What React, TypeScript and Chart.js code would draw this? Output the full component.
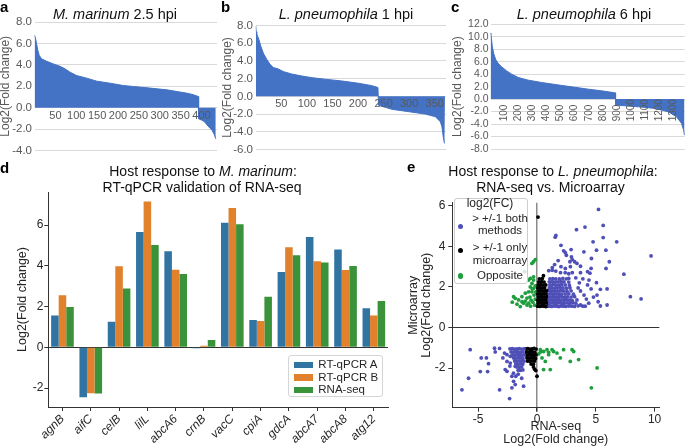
import React, { useEffect, useRef } from "react";
import { Chart, registerables } from "chart.js";

Chart.register(...registerables);

const FONT = "'Liberation Sans', Arial, Helvetica, sans-serif";
const EXCEL_BLUE = "#4472C4";
const EXCEL_TXT = "#595959";
const DARK = "#262626";

// ---------- Panel a: M. marinum 2.5 hpi (genes ranked by log2 FC) ----------
const aRank = [0, 3.6, 7.6, 11.5, 17, 29, 45, 61, 73, 85, 101, 125, 149, 181, 213, 237, 277, 317, 340, 365, 380, 392, 393, 400, 407, 413, 420, 425, 430, 434];
const aLog2FC = [6.8, 6.26, 5.4, 4.87, 4.56, 4.34, 4.09, 3.87, 3.63, 3.32, 3.0, 2.76, 2.48, 2.29, 2.07, 1.98, 1.83, 1.67, 1.52, 1.36, 1.22, 1.05, -1.03, -1.15, -1.3, -1.6, -1.9, -2.1, -2.45, -2.9];
const aXTicks = [50, 100, 150, 200, 250, 300, 350, 400];
const aYTicks = [8, 6, 4, 2, 0, -2, -4];

// ---------- Panel b: L. pneumophila 1 hpi ----------
const bRank = [0, 1, 2, 4, 6.5, 9.8, 15, 21.5, 28, 34.5, 44, 54, 70, 90, 110, 136, 168, 201, 227, 239, 240, 266, 299, 331, 351, 361, 364, 367, 369, 370];
const bLog2FC = [8.0, 7.3, 7.1, 6.75, 6.37, 5.7, 4.87, 4.19, 3.62, 3.25, 3.1, 2.8, 2.53, 2.3, 2.11, 1.93, 1.74, 1.48, 1.21, 1.0, -1.0, -1.46, -1.73, -1.99, -2.29, -2.86, -3.42, -4.7, -5.3, -5.3];
const bXTicks = [50, 100, 150, 200, 250, 300, 350];
const bYTicks = [8, 6, 4, 2, 0, -2, -4, -6];

// ---------- Panel c: L. pneumophila 6 hpi ----------
const cRank = [0, 3, 13, 23, 37, 56, 80, 115, 151, 198, 269, 364, 459, 578, 696, 791, 874, 890, 891, 1052, 1171, 1266, 1325, 1361, 1376, 1382];
const cLog2FC = [10.6, 10.5, 8.4, 7.3, 6.35, 5.7, 5.17, 4.53, 4.0, 3.47, 3.04, 2.67, 2.35, 1.97, 1.6, 1.33, 1.05, 1.0, -0.96, -1.23, -1.49, -2.03, -2.83, -3.9, -5.0, -5.8];
const cXTicks = [100, 200, 300, 400, 500, 600, 700, 800, 900, 1000, 1100, 1200, 1300];
const cYTicks = [12, 10, 8, 6, 4, 2, 0, -2, -4, -6, -8];

// ---------- Panel d: RT-qPCR validation ----------
const dGenes = ["agnB", "aifC", "celB", "lilL", "abcA6", "crnB", "vacC", "cpiA", "gdcA", "abcA7", "abcA8", "atg12"];
const qpcrA = [1.56, -2.45, 1.26, 5.66, 4.72, -0.04, 6.12, 1.34, 3.7, 5.42, 4.8, 1.92];
const qpcrB = [2.56, -2.25, 3.98, 7.16, 3.81, 0.08, 6.85, 1.29, 4.92, 4.23, 3.8, 1.57];
const rnaSeq = [1.98, -2.27, 2.89, 5.03, 3.6, 0.36, 6.04, 2.49, 4.52, 4.17, 4.0, 2.28];
const dSeriesNames = ["RT-qPCR A", "RT-qPCR B", "RNA-seq"];
const dSeriesColors = ["#3274a1", "#e1812c", "#3a923a"];
const dYTicks = [-2, 0, 2, 4, 6];

// ---------- Panel e: RNA-seq vs microarray (x = RNA-seq, y = microarray) ----------
const bothMethods: [number, number][] = [
  [5.23, 5.82], [4.08, 4.95], [5.63, 5.03], [1.61, 4.54], [1.55, 4.45], [3.36, 4.82], [5.63, 4.43], [4.77, 4.22], [6.78, 4.22], [2.04, 4.05],
  [2.27, 3.78], [2.41, 3.69], [2.9, 3.84], [3.99, 3.73], [5.06, 3.81], [5.86, 3.81], [9.7, 3.53], [4.63, 3.4], [6.15, 3.24], [2.5, 3.56],
  [2.93, 3.48], [3.0, 3.35], [3.2, 3.24], [3.4, 3.16], [2.8, 3.24], [2.04, 3.0], [2.41, 2.91], [2.84, 3.0], [3.7, 3.02], [4.6, 2.91],
  [5.87, 2.91], [7.39, 2.63], [4.42, 2.34], [5.06, 2.21], [5.39, 1.88], [5.96, 1.9], [7.94, 1.52], [8.85, 1.41], [5.1, 1.6], [5.2, 1.27],
  [5.39, 1.06], [5.96, 1.11], [3.7, 1.11], [1.8, 3.3], [1.5, 3.1], [1.3, 2.95],
  [1.0, 2.8], [1.3, 2.82], [1.6, 2.78], [2.0, 2.7], [2.4, 2.7], [2.7, 2.65], [3.0, 2.7], [3.7, 2.7], [4.3, 2.75], [4.5, 2.68],
  [2.7, 2.42], [3.3, 2.45], [3.9, 2.4], [4.3, 2.1], [4.6, 1.9], [3.7, 1.8], [4.0, 1.6], [4.2, 1.4], [4.4, 1.2], [4.1, 1.05], [4.8, 1.5], [3.6, 2.2], [3.5, 1.95],
  [1.05, 1.05], [1.25, 1.04], [1.45, 1.06], [1.65, 1.05], [1.85, 1.03], [2.05, 1.06], [2.25, 1.05], [2.45, 1.04], [2.7, 1.06], [2.95, 1.05], [3.2, 1.04], [3.5, 1.07], [3.9, 1.05],
  [1.1, 1.2], [1.3, 1.21], [1.5, 1.19], [1.7, 1.2], [1.9, 1.22], [2.1, 1.2], [2.3, 1.19], [2.55, 1.21], [2.8, 1.2], [3.05, 1.22], [3.3, 1.2],
  [1.05, 1.35], [1.25, 1.36], [1.45, 1.34], [1.65, 1.35], [1.85, 1.37], [2.05, 1.35], [2.3, 1.34], [2.5, 1.36], [2.75, 1.35], [3.0, 1.33], [3.4, 1.36],
  [1.1, 1.5], [1.3, 1.51], [1.5, 1.49], [1.7, 1.5], [1.9, 1.52], [2.15, 1.5], [2.35, 1.49], [2.6, 1.51], [2.9, 1.5], [3.2, 1.52],
  [1.05, 1.65], [1.25, 1.66], [1.45, 1.64], [1.65, 1.65], [1.9, 1.66], [2.1, 1.64], [2.4, 1.65], [2.7, 1.66], [3.1, 1.64],
  [1.1, 1.8], [1.3, 1.81], [1.5, 1.79], [1.75, 1.8], [2.0, 1.82], [2.25, 1.8], [2.55, 1.79], [2.9, 1.81],
  [1.05, 1.95], [1.25, 1.96], [1.5, 1.94], [1.7, 1.95], [1.95, 1.97], [2.2, 1.95], [2.5, 1.94], [2.8, 1.96],
  [1.1, 2.1], [1.35, 2.11], [1.6, 2.09], [1.85, 2.1], [2.1, 2.12], [2.4, 2.1], [2.75, 2.09],
  [1.05, 2.25], [1.3, 2.26], [1.55, 2.24], [1.8, 2.25], [2.05, 2.27], [2.3, 2.25], [2.7, 2.24],
  [1.1, 2.4], [1.35, 2.41], [1.6, 2.39], [1.9, 2.4], [2.2, 2.42], [2.5, 2.4],
  [-5.68, -1.09], [-4.74, -1.5], [-4.3, -1.5], [-4.12, -1.78], [-4.82, -2.17], [-4.2, -2.17], [-5.82, -2.5], [-6.38, -3.07], [-3.18, -3.07], [-2.33, -3.5],
  [-3.61, -1.02], [-3.18, -1.03], [-3.55, -1.2], [-2.76, -1.26], [-2.55, -1.34], [-2.27, -1.42], [-2.55, -1.67], [-2.27, -1.75], [-1.85, -1.91], [-2.7, -2.07],
  [-2.55, -2.16], [-2.13, -2.4], [-1.99, -2.65], [-1.85, -2.81], [-1.14, -2.89], [-2.13, -2.97], [-2.0, -2.25], [-1.8, -2.4], [-2.3, -1.9], [-2.9, -1.5],
  [-1.6, -2.3], [-1.3, -2.5],
  [-2.3, -1.05], [-2.1, -1.04], [-1.9, -1.06], [-1.7, -1.05], [-1.5, -1.04], [-1.3, -1.06], [-1.1, -1.05],
  [-2.2, -1.2], [-2.0, -1.21], [-1.8, -1.19], [-1.6, -1.2], [-1.4, -1.22], [-1.2, -1.2],
  [-2.1, -1.35], [-1.9, -1.36], [-1.7, -1.34], [-1.5, -1.35], [-1.3, -1.37], [-1.1, -1.35],
  [-2.0, -1.5], [-1.8, -1.51], [-1.6, -1.49], [-1.4, -1.5], [-1.2, -1.52],
  [-1.9, -1.65], [-1.7, -1.66], [-1.5, -1.64], [-1.3, -1.65], [-1.1, -1.66],
  [-1.8, -1.8], [-1.6, -1.81], [-1.4, -1.79], [-1.2, -1.8],
  [-1.7, -1.95], [-1.5, -1.96], [-1.3, -1.94],
  [-1.6, -2.1], [-1.4, -2.11], [-1.2, -2.09],
];

const onlyMicroarray: [number, number][] = [
  [0.05, 1.05], [0.22, 1.04], [0.4, 1.06], [0.58, 1.05], [0.75, 1.03], [0.92, 1.06],
  [0.1, 1.2], [0.28, 1.21], [0.46, 1.19], [0.64, 1.2], [0.82, 1.22],
  [0.05, 1.35], [0.22, 1.36], [0.4, 1.34], [0.58, 1.35], [0.75, 1.37], [0.92, 1.35],
  [0.1, 1.5], [0.28, 1.51], [0.46, 1.49], [0.64, 1.5], [0.85, 1.52],
  [0.05, 1.65], [0.22, 1.66], [0.4, 1.64], [0.6, 1.65], [0.8, 1.66],
  [0.1, 1.8], [0.3, 1.81], [0.5, 1.79], [0.7, 1.8], [0.9, 1.82],
  [0.05, 1.95], [0.25, 1.96], [0.45, 1.94], [0.65, 1.95],
  [0.1, 2.1], [0.3, 2.11], [0.5, 2.09], [0.75, 2.1],
  [0.15, 2.25], [0.4, 2.26], [0.6, 2.24],
  [0.2, 2.4], [0.45, 2.41], [0.55, 2.55], [0.09, 5.44],
  [-0.95, -1.05], [-0.78, -1.04], [-0.6, -1.06], [-0.42, -1.05], [-0.25, -1.03], [-0.08, -1.06],
  [-0.9, -1.2], [-0.72, -1.21], [-0.55, -1.19], [-0.38, -1.2], [-0.2, -1.22],
  [-0.95, -1.35], [-0.78, -1.36], [-0.6, -1.34], [-0.42, -1.35], [-0.25, -1.37], [-0.08, -1.35],
  [-0.85, -1.5], [-0.65, -1.51], [-0.45, -1.49], [-0.28, -1.5], [-0.12, -1.52],
  [-0.8, -1.65], [-0.6, -1.66], [-0.4, -1.64], [-0.2, -1.65],
  [-0.5, -1.8], [-0.3, -1.81], [-0.3, -1.95], [-0.2, -2.05], [-0.1, -2.12], [0.0, -2.4],
];

const opposite: [number, number][] = [
  [-0.29, 3.24], [-0.43, 3.16], [-0.14, 3.35], [-1.05, 2.75], [-0.71, 2.34], [-0.57, 2.42], [-0.29, 2.34], [-0.43, 2.17], [-0.29, 2.5],
  [-1.99, 1.52], [-1.85, 1.44], [-1.57, 1.36], [-1.28, 1.52], [-1.14, 1.2], [-0.85, 1.11], [-0.99, 1.69], [-0.71, 1.76], [-0.57, 2.0],
  [-0.43, 1.76], [-0.29, 1.93], [-1.42, 1.03], [-1.28, 1.27], [-0.2, 1.1], [-0.35, 1.25], [-0.15, 1.4], [-0.5, 1.35], [-0.25, 1.6],
  [-0.6, 1.5], [-0.1, 1.75], [-0.4, 1.9], [-0.15, 2.05], [-0.7, 1.2], [-0.55, 1.05], [-1.0, 1.3], [-0.85, 1.45], [-2.1, 1.25], [-1.7, 1.15],
  [0.28, -1.09], [0.56, -1.18], [0.85, -1.09], [0.99, -1.22], [1.28, -1.09], [1.7, -1.26], [2.26, -1.09], [2.98, -1.09], [3.12, -1.18],
  [1.98, -1.5], [2.83, -1.67], [3.54, -1.58], [0.56, -2.07], [1.13, -2.07], [5.11, -1.99], [4.62, -2.97], [0.43, -1.5], [0.71, -1.67],
  [0.99, -1.34], [1.41, -1.18], [0.15, -1.3], [0.3, -1.2],
];
const eSeriesNames = ["> +/-1 both\nmethods", "> +/-1 only\nmicroarray", "Opposite"];
const eSeriesColors = ["#4f4fb8", "#000000", "#1e9e3c"];
const eXTicks = [-5, 0, 5, 10];
const eYTicks = [-2, 0, 2, 4, 6];

// ---------- helpers ----------
const setTicks = (vals: number[]) => (s: any) => {
  s.ticks = [...vals].sort((a, b) => a - b).map((v) => ({ value: v }));
};
const TRANSPARENT = "rgba(0,0,0,0)";

type WProps = {
  rank: number[]; fc: number[]; xMax: number; xTicks: number[]; yTicks: number[];
  yMin: number; yMax: number; yWidth: number; padTop: number; padRight: number; padBottom: number;
  yFont: number; xFont: number; rotate: boolean; xPad: number; yPad: number;
};

function waterfallConfig(p: WProps): any {
  return {
    type: "line",
    data: {
      datasets: [
        {
          data: p.rank.map((r, i) => ({ x: r, y: p.fc[i] })),
          borderColor: EXCEL_BLUE,
          backgroundColor: EXCEL_BLUE,
          borderWidth: 1,
          pointRadius: 0,
          fill: "origin",
          tension: 0,
        },
      ],
    },
    options: {
      responsive: false,
      animation: false,
      devicePixelRatio: 1,
      events: [],
      layout: { padding: { left: 0, top: p.padTop, right: p.padRight, bottom: p.padBottom } },
      plugins: { legend: { display: false }, tooltip: { enabled: false } },
      scales: {
        x: {
          type: "linear",
          min: 0,
          max: p.xMax,
          position: { y: 0 },
          afterBuildTicks: setTicks(p.xTicks),
          ticks: {
            autoSkip: false,
            minRotation: p.rotate ? 90 : 0,
            maxRotation: p.rotate ? 90 : 0,
            padding: p.xPad,
            z: 1,
            color: EXCEL_TXT,
            font: { family: FONT, size: p.xFont },
            callback: (v: any) => (p.rotate ? String(v).padEnd(4, "\u2007") : String(v)),
          },
          grid: { display: false, drawTicks: false, tickLength: 0 },
          border: { display: false },
        },
        y: {
          type: "linear",
          min: p.yMin,
          max: p.yMax,
          position: "left",
          afterBuildTicks: setTicks(p.yTicks),
          afterFit: (s: any) => { s.width = p.yWidth; },
          ticks: {
            autoSkip: false,
            padding: p.yPad,
            color: EXCEL_TXT,
            font: { family: FONT, size: p.yFont },
            callback: (v: any) => Number(v).toFixed(1),
          },
          grid: { color: "#d9d9d9", drawTicks: false, tickLength: 0, lineWidth: 1 },
          border: { display: false },
          title: {
            display: true,
            text: "Log2(Fold change)",
            color: EXCEL_TXT,
            font: { family: FONT, size: 12, lineHeight: 1 },
            padding: 0,
          },
        },
      },
    },
  };
}

function barConfig(): any {
  const series = [qpcrA, qpcrB, rnaSeq];
  return {
    type: "bar",
    data: {
      labels: dGenes,
      datasets: series.map((d, i) => ({
        label: dSeriesNames[i],
        data: d,
        backgroundColor: dSeriesColors[i],
        borderWidth: 0,
        categoryPercentage: 0.8,
        barPercentage: 1,
      })),
    },
    options: {
      responsive: false,
      animation: false,
      devicePixelRatio: 1,
      events: [],
      layout: { padding: { left: 0, top: 32, right: 12, bottom: 0 } },
      plugins: { legend: { display: false }, tooltip: { enabled: false } },
      scales: {
        x: {
          afterFit: (s: any) => { s.height = 41; },
          grid: { drawOnChartArea: false, offset: false, tickLength: 4, color: "#333", tickColor: "#333", lineWidth: 1 },
          border: { color: "#333", width: 1 },
          ticks: {
            autoSkip: false,
            minRotation: 45,
            maxRotation: 45,
            padding: 1,
            color: DARK,
            font: { family: FONT, size: 12, style: "italic" },
          },
        },
        y: {
          min: -2.93,
          max: 7.63,
          afterBuildTicks: setTicks(dYTicks),
          afterFit: (s: any) => { s.width = 48.3; },
          ticks: { padding: 1, color: DARK, font: { family: FONT, size: 12 } },
          grid: {
            color: (c: any) => (c.tick && c.tick.value === 0 ? "#333" : TRANSPARENT),
            tickColor: "#333",
            tickLength: 4,
            lineWidth: 1,
          },
          border: { color: "#333", width: 1 },
          title: {
            display: true,
            text: "Log2(Fold change)",
            color: DARK,
            font: { family: FONT, size: 12.5, lineHeight: 1.2 },
            padding: { top: 15, bottom: 0 },
          },
        },
      },
    },
  };
}

function scatterConfig(): any {
  const series = [bothMethods, onlyMicroarray, opposite];
  return {
    type: "scatter",
    data: {
      datasets: series.map((d, i) => ({
        label: eSeriesNames[i],
        data: d.map(([x, y]) => ({ x, y })),
        backgroundColor: eSeriesColors[i],
        borderWidth: 0,
        pointRadius: 1.9,
        pointHoverRadius: 1.9,
      })),
    },
    options: {
      responsive: false,
      animation: false,
      devicePixelRatio: 1,
      events: [],
      layout: { padding: { left: 0, top: 42.7, right: 25.7, bottom: 0 } },
      plugins: { legend: { display: false }, tooltip: { enabled: false } },
      scales: {
        x: {
          type: "linear",
          min: -7.2,
          max: 10.4,
          position: "bottom",
          afterBuildTicks: setTicks(eXTicks),
          afterFit: (s: any) => { s.height = 40.3; },
          ticks: { padding: 1, color: DARK, font: { family: FONT, size: 12 } },
          grid: {
            color: (c: any) => (c.tick && c.tick.value === 0 ? "#8a8a8a" : TRANSPARENT),
            lineWidth: (c: any) => (c.tick && c.tick.value === 0 ? 1.5 : 1),
            tickColor: "#333",
            tickLength: 4,
          },
          border: { color: "#333", width: 1 },
          title: {
            display: true,
            text: ["RNA-seq", "Log2(Fold change)"],
            color: DARK,
            font: { family: FONT, size: 12.5, lineHeight: 1.08 },
            padding: { top: 0, bottom: 1.5 },
          },
        },
        y: {
          type: "linear",
          min: -3.95,
          max: 6.15,
          afterBuildTicks: setTicks(eYTicks),
          afterFit: (s: any) => { s.width = 52.3; },
          ticks: { padding: 3, color: DARK, font: { family: FONT, size: 12 } },
          grid: {
            color: (c: any) => (c.tick && c.tick.value === 0 ? "#333" : TRANSPARENT),
            tickColor: "#333",
            tickLength: 4,
            lineWidth: 1,
          },
          border: { color: "#333", width: 1 },
          title: {
            display: true,
            text: ["Microarray", "Log2(Fold change)"],
            color: DARK,
            font: { family: FONT, size: 12.5, lineHeight: 1.04 },
            padding: { top: 7.5, bottom: 0 },
          },
        },
      },
    },
  };
}

function ChartBox(props: { left: number; top: number; width: number; height: number; make: () => any }) {
  const ref = useRef<HTMLCanvasElement | null>(null);
  useEffect(() => {
    if (!ref.current) return;
    const chart = new Chart(ref.current, props.make());
    return () => chart.destroy();
  }, []);
  return (
    <canvas
      ref={ref}
      width={props.width}
      height={props.height}
      style={{ position: "absolute", left: props.left, top: props.top, width: props.width, height: props.height, display: "block" }}
    />
  );
}

function Txt(props: {
  x: number; y: number; size: number; children: React.ReactNode;
  align?: "left" | "center"; bold?: boolean; color?: string;
}) {
  const { x, y, size, align = "left", bold, color = "#111" } = props;
  const style: React.CSSProperties = {
    position: "absolute",
    top: y - 0.8465 * size,
    left: x,
    fontSize: size,
    lineHeight: `${size}px`,
    fontFamily: FONT,
    fontWeight: bold ? "bold" : "normal",
    color,
    whiteSpace: "nowrap",
  };
  if (align === "center") style.transform = "translateX(-50%)";
  return <div style={style}>{props.children}</div>;
}

export default function App() {
  const dLegendY = [365, 377.7, 390];
  const eDotY = [226.7, 250.7, 276];
  const eTextY = [[222.7, 235], [251.7, 264.3], [280]];
  return (
    <div style={{ position: "absolute", left: 0, top: 0, width: 685, height: 448, background: "#fff", overflow: "hidden" }}>
      <ChartBox left={0} top={0} width={222} height={160} make={() => waterfallConfig({
        rank: aRank, fc: aLog2FC, xMax: 437, xTicks: aXTicks, yTicks: aYTicks, yMin: -4, yMax: 8,
        yWidth: 34.5, padTop: 22, padRight: 5, padBottom: 9, yFont: 11.5, xFont: 11, rotate: false, xPad: 1.5, yPad: 2.5,
      })} />
      <ChartBox left={222} top={0} width={230} height={160} make={() => waterfallConfig({
        rank: bRank, fc: bLog2FC, xMax: 372, xTicks: bXTicks, yTicks: bYTicks, yMin: -6, yMax: 8,
        yWidth: 33.7, padTop: 25.5, padRight: 6, padBottom: 10.5, yFont: 11.5, xFont: 11, rotate: false, xPad: 1.2, yPad: 2.7,
      })} />
      <ChartBox left={452} top={0} width={233} height={160} make={() => waterfallConfig({
        rank: cRank, fc: cLog2FC, xMax: 1384, xTicks: cXTicks, yTicks: cYTicks, yMin: -8, yMax: 12,
        yWidth: 38.5, padTop: 24.3, padRight: 0, padBottom: 11, yFont: 10.5, xFont: 10, rotate: true, xPad: 0, yPad: 2,
      })} />
      <ChartBox left={0} top={160} width={400} height={288} make={barConfig} />
      <ChartBox left={400} top={160} width={285} height={288} make={scatterConfig} />

      {/* panel letters */}
      <Txt x={0} y={12} size={15} bold color="#000">a</Txt>
      <Txt x={221} y={12} size={15} bold color="#000">b</Txt>
      <Txt x={451} y={12} size={15} bold color="#000">c</Txt>
      <Txt x={0} y={172.5} size={15} bold color="#000">d</Txt>
      <Txt x={407} y={172} size={15} bold color="#000">e</Txt>

      {/* titles */}
      <Txt x={115} y={19} size={14.5} align="center"><i>M. marinum</i> 2.5 hpi</Txt>
      <Txt x={346} y={19} size={14.5} align="center"><i>L. pneumophila</i> 1 hpi</Txt>
      <Txt x={584} y={19} size={14.5} align="center"><i>L. pneumophila</i> 6 hpi</Txt>
      <Txt x={203} y={175.7} size={14} align="center">Host response to <i>M. marinum</i>:</Txt>
      <Txt x={202} y={192.3} size={14} align="center">RT-qPCR validation of RNA-seq</Txt>
      <Txt x={553} y={175.7} size={14} align="center">Host response to <i>L. pneumophila</i>:</Txt>
      <Txt x={550.5} y={192.3} size={14} align="center">RNA-seq vs. Microarray</Txt>

      {/* legend d */}
      <div style={{ position: "absolute", left: 288, top: 355, width: 95, height: 42, boxSizing: "border-box", border: "1px solid #d5d5d5", borderRadius: 3, background: "rgba(255,255,255,0.85)" }} />
      {dSeriesNames.map((name, i) => (
        <React.Fragment key={name}>
          <div style={{ position: "absolute", left: 294.3, top: dLegendY[i] - 3.3, width: 19, height: 6.6, background: dSeriesColors[i] }} />
          <Txt x={318.3} y={dLegendY[i] + 4.1} size={11.5} color={DARK}>{name}</Txt>
        </React.Fragment>
      ))}

      {/* legend e */}
      <div style={{ position: "absolute", left: 454, top: 198, width: 74, height: 86, boxSizing: "border-box", border: "1px solid #cccccc", borderRadius: 3, background: "rgba(255,255,255,0.8)" }} />
      <Txt x={490} y={206.7} size={12} align="center" color={DARK}>log2(FC)</Txt>
      {eSeriesNames.map((name, i) => (
        <React.Fragment key={name}>
          <div style={{ position: "absolute", left: 460.7 - 2.6, top: eDotY[i] - 2.6, width: 5.2, height: 5.2, borderRadius: "50%", background: eSeriesColors[i] }} />
          {name.split("\n").map((line, j) => (
            <Txt key={line} x={500} y={eTextY[i][j]} size={11.5} align="center" color={DARK}>{line}</Txt>
          ))}
        </React.Fragment>
      ))}
    </div>
  );
}
